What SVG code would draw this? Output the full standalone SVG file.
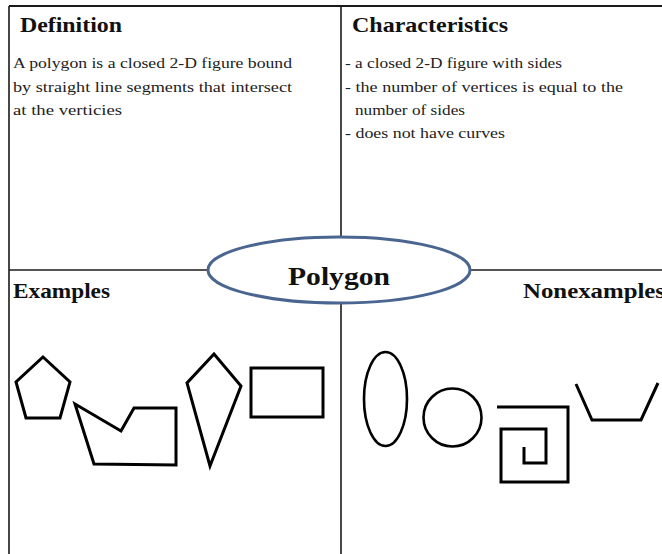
<svg xmlns="http://www.w3.org/2000/svg" width="662" height="554" viewBox="0 0 662 554">
<style>
.grid{stroke:#1a1a1a;stroke-width:1.6;fill:none}
.hd{font-family:"Liberation Serif",serif;font-weight:bold;font-size:21px;fill:#111}
.bd{font-family:"Liberation Serif",serif;font-size:14.5px;fill:#222}
.shp{fill:none;stroke:#000;stroke-width:3;stroke-linejoin:miter}
.non{fill:none;stroke:#000;stroke-width:2.6}
</style>
<rect width="662" height="554" fill="#fff"/>
<g id="connectors">
<line class="grid" x1="9" y1="6" x2="662" y2="6" style="stroke-width:2"/>
<line class="grid" x1="9" y1="6" x2="9" y2="554"/>
<line class="grid" x1="341" y1="6" x2="341" y2="554"/>
<line class="grid" x1="9" y1="270" x2="662" y2="270"/>
</g>
<g id="definition">
<text class="hd" x="20" y="32" textLength="102" lengthAdjust="spacingAndGlyphs">Definition</text>
<text class="bd" x="13" y="68" textLength="279" lengthAdjust="spacingAndGlyphs">A polygon is a closed 2-D figure bound</text>
<text class="bd" x="13" y="92" textLength="279" lengthAdjust="spacingAndGlyphs">by straight line segments that intersect</text>
<text class="bd" x="13" y="115" textLength="109" lengthAdjust="spacingAndGlyphs">at the verticies</text>
</g>
<g id="characteristics">
<text class="hd" x="352" y="32" textLength="156" lengthAdjust="spacingAndGlyphs">Characteristics</text>
<text class="bd" x="345" y="68" textLength="217" lengthAdjust="spacingAndGlyphs">- a closed 2-D figure with sides</text>
<text class="bd" x="345" y="92" textLength="278" lengthAdjust="spacingAndGlyphs">- the number of vertices is equal to the</text>
<text class="bd" x="355" y="115" textLength="110" lengthAdjust="spacingAndGlyphs">number of sides</text>
<text class="bd" x="345" y="138" textLength="160" lengthAdjust="spacingAndGlyphs">- does not have curves</text>
</g>
<g id="examples">
<text class="hd" x="13" y="298" textLength="97" lengthAdjust="spacingAndGlyphs">Examples</text>
<polygon class="shp" points="43,357 70,382 60,418 26,418 16,382"/>
<polygon class="shp" points="75,404 121,431 134,408 176,408 176,465 94,464"/>
<polygon class="shp" points="214,354 241,386 210,466 187,383"/>
<rect class="shp" x="251" y="368" width="72" height="49"/>
</g>
<g id="nonexamples">
<text class="hd" x="523" y="298" textLength="142" lengthAdjust="spacingAndGlyphs">Nonexamples</text>
<ellipse class="non" cx="385.5" cy="399" rx="21.5" ry="47"/>
<circle class="non" cx="452.5" cy="417.5" r="29"/>
<polyline class="shp" points="497,407 568,407 568,482 501,482 501,429 546,429 546,463 524,463 524,447"/>
<polyline class="shp" points="576,384 592,420 641,420 658,383"/>
</g>
<g id="polygon">
<ellipse cx="339" cy="270" rx="131" ry="33" fill="#fff" stroke="#4a6690" stroke-width="3"/>
<text x="339" y="285" text-anchor="middle" font-family="Liberation Serif, serif" font-weight="bold" font-size="26" fill="#111" textLength="102" lengthAdjust="spacingAndGlyphs">Polygon</text>
</g>
</svg>
